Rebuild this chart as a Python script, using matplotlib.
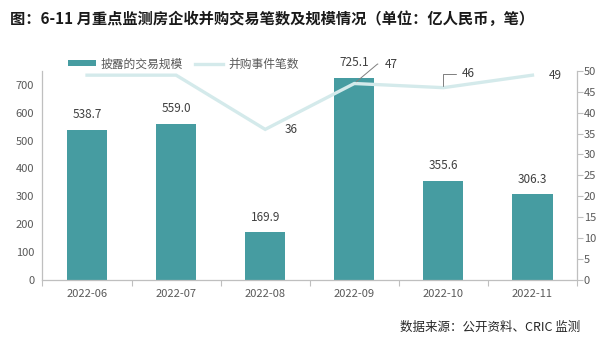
import matplotlib
matplotlib.use("Agg")
import matplotlib.pyplot as plt
import numpy as np

plt.rcParams['font.family'] = ['Noto Sans CJK SC', 'DejaVu Sans']

months = ["2022-06", "2022-07", "2022-08", "2022-09", "2022-10", "2022-11"]
scale = [538.7, 559.0, 169.9, 725.1, 355.6, 306.3]
deals = [49, 49, 36, 47, 46, 49]
left_ticks = [0, 100, 200, 300, 400, 500, 600, 700]
right_ticks = [0, 5, 10, 15, 20, 25, 30, 35, 40, 45, 50]

BAR = "#469ca1"
LINE = "#d4eaeb"
TXT = "#595959"
SP = "#bfbfbf"

fig = plt.figure(figsize=(6, 3.42), dpi=100)
ax = fig.add_axes([0.0708, 0.1827, 0.8909, 0.6097])
ax2 = ax.twinx()

x = np.arange(len(months))
bars = ax.bar(x, scale, width=0.45, color=BAR, label="披露的交易规模", zorder=2)
ax.set_xlim(-0.5, len(months) - 0.5)
ax.set_ylim(0, 750)
ax.set_yticks(left_ticks)
ax.set_xticks(x)
ax.set_xticklabels(months)
ax.set_xticks(np.arange(-0.5, len(months), 1.0), minor=True)
ax.tick_params(axis='x', which='major', length=0, pad=7, labelsize=8, labelcolor=TXT)
ax.tick_params(axis='x', which='minor', length=4, color=SP, width=0.8)
ax.tick_params(axis='y', length=0, pad=6, labelsize=8, labelcolor=TXT)
for s in ['top', 'right']:
    ax.spines[s].set_visible(False)
for s in ['left', 'bottom']:
    ax.spines[s].set_color(SP)
    ax.spines[s].set_linewidth(0.9)

for xi, v in zip(x, scale):
    ax.annotate(f"{v:.1f}", (xi, v), xytext=(0, 11), textcoords='offset points',
                ha='center', va='center', fontsize=8.5, color="#404040")

line, = ax2.plot(x, deals, color=LINE, lw=2.4, label="并购事件笔数", zorder=3, solid_joinstyle='miter')
ax2.set_ylim(0, 50)
ax2.set_yticks(right_ticks)
ax2.tick_params(axis='y', length=4, color=SP, width=0.8, pad=1, labelsize=8, labelcolor=TXT)
for s in ['top', 'left', 'bottom']:
    ax2.spines[s].set_visible(False)
ax2.spines['right'].set_color(SP)
ax2.spines['right'].set_linewidth(0.9)

lab_kw = dict(fontsize=8.5, color="#404040", va='center')
ax2.annotate(str(deals[2]), (x[2], deals[2]), xytext=(14, 0), textcoords='offset points', ha='left', **lab_kw)
ax2.annotate(str(deals[3]), (x[3], deals[3]), xytext=(22, 14), textcoords='offset points', ha='left',
             arrowprops=dict(arrowstyle='-', color='#7f7f7f', lw=0.7,
                             connectionstyle='angle,angleA=0,angleB=40,rad=0', shrinkA=3, shrinkB=2), **lab_kw)
ax2.annotate(str(deals[4]), (x[4], deals[4]), xytext=(13, 10), textcoords='offset points', ha='left',
             arrowprops=dict(arrowstyle='-', color='#7f7f7f', lw=0.7,
                             connectionstyle='angle,angleA=0,angleB=90,rad=0', shrinkA=2, shrinkB=1), **lab_kw)
ax2.annotate(str(deals[5]), (x[5], deals[5]), xytext=(12, 0), textcoords='offset points', ha='left',
             style='italic', **lab_kw)

fig.legend(handles=[bars, line], labels=["披露的交易规模", "并购事件笔数"], loc='center left',
           bbox_to_anchor=(0.113, 0.813), bbox_transform=fig.transFigure, ncol=2, frameon=False,
           fontsize=8.5, handlelength=2.4, handleheight=0.4, handletextpad=0.4, columnspacing=1.0,
           borderpad=0, borderaxespad=0, labelcolor=TXT)

fig.text(0.017, 0.945, "图：6-11 月重点监测房企收并购交易笔数及规模情况（单位：亿人民币，笔）",
         fontsize=11, fontweight='bold', ha='left', va='center', color='#1a1a1a')
fig.text(0.967, 0.044, "数据来源：公开资料、CRIC 监测", fontsize=9, ha='right', va='center', color='#262626')

fig.savefig("out.png", dpi=100)
